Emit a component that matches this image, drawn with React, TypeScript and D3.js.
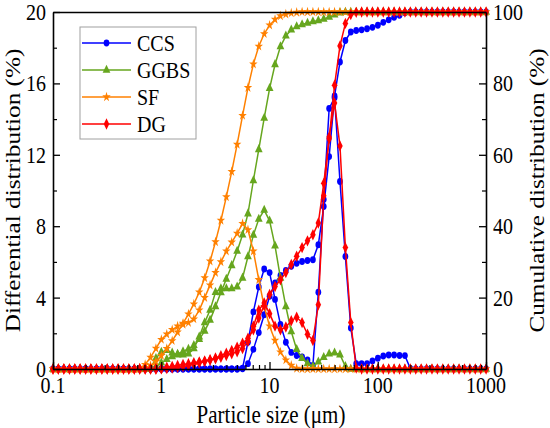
import { useEffect, useRef } from "react";
import * as d3 from "d3";

// particle size classes (µm)
const sizes = [
  0.1, 0.112, 0.126, 0.142, 0.159, 0.178, 0.2, 0.224, 0.252, 0.283,
  0.317, 0.356, 0.399, 0.448, 0.502, 0.564, 0.632, 0.71, 0.796, 0.893,
  1.002, 1.125, 1.262, 1.416, 1.589, 1.783, 2.0, 2.244, 2.518, 2.825,
  3.17, 3.557, 3.991, 4.477, 5.024, 5.637, 6.325, 7.096, 7.962, 8.934,
  10.024, 11.247, 12.619, 14.159, 15.887, 17.825, 20.0, 22.44, 25.179, 28.251,
  31.698, 35.566, 39.905, 44.774, 50.238, 56.368, 63.246, 70.963, 79.621, 89.337,
  100.237, 112.468, 126.191, 141.589, 158.866, 178.25, 200.0, 224.404, 251.785, 282.508,
  316.979, 355.656, 399.052, 447.744, 502.377, 563.677, 632.456, 709.627, 796.214, 893.367,
  1002.374,
];

const ccsDiff = [
  0, 0, 0, 0, 0, 0, 0, 0, 0, 0,
  0, 0, 0, 0, 0, 0, 0, 0, 0, 0,
  0, 0, 0, 0, 0, 0, 0, 0, 0, 0,
  0, 0, 0, 0, 0, 0.05, 1.5, 3.2, 4.6, 5.6,
  5.4, 3.9, 2.5, 1.5, 0.93, 0.76, 0.68, 0.5, 0.2, 4.3,
  9.5, 14.6, 15.2, 10.5, 6.3, 2.3, 0.3, 0.3, 0.3, 0.45,
  0.6, 0.73, 0.78, 0.78, 0.76, 0.75, 0.02, 0, 0, 0,
  0, 0, 0, 0, 0, 0, 0, 0, 0, 0,
  0,
];
const ccsCum = [
  0, 0, 0, 0, 0, 0, 0, 0, 0, 0,
  0, 0, 0, 0, 0, 0, 0, 0, 0, 0,
  0, 0, 0, 0, 0, 0, 0, 0, 0, 0,
  0, 0, 0, 0, 0, 0.05, 1.5, 5.5, 10.2, 15.2,
  20.4, 24.1, 26.2, 27.6, 28.8, 29.6, 30.1, 30.4, 30.6, 34.8,
  45.5, 59.5, 76.5, 86.0, 92.0, 94.4, 94.8, 95.0, 95.3, 95.7,
  96.3, 97.1, 97.8, 98.5, 99.1, 99.8, 100, 100, 100, 100,
  100, 100, 100, 100, 100, 100, 100, 100, 100, 100,
  100,
];

const ggbsDiff = [
  0, 0, 0, 0, 0, 0, 0, 0, 0, 0,
  0, 0, 0, 0, 0, 0, 0, 0, 0.05, 0.6,
  0.95, 1.05, 0.9, 0.8, 0.8, 0.85, 1.15, 1.8, 2.6, 3.3,
  4.3, 4.5, 4.5, 4.5, 4.6, 5.1, 6.3, 7.5, 8.4, 8.9,
  8.3, 6.9, 5.1, 3.5, 2.1, 1.1, 0.6, 0.3, 0.15, 0.4,
  0.65, 0.85, 0.9, 0.8, 0.15, 0, 0, 0, 0, 0,
  0, 0, 0, 0, 0, 0, 0, 0, 0, 0,
  0, 0, 0, 0, 0, 0, 0, 0, 0, 0,
  0,
];
const ggbsCum = [
  0, 0, 0, 0, 0, 0, 0, 0, 0, 0,
  0, 0, 0, 0, 0, 0, 0, 0, 0.1, 0.7,
  1.7, 2.7, 3.5, 4.2, 4.9, 5.6, 6.6, 8.3, 10.6, 13.7,
  17.5, 21.4, 25.2, 29.0, 33.0, 37.6, 43.5, 52.8, 61.5, 70.3,
  78.6, 85.3, 90.3, 93.3, 95.0, 95.9, 96.5, 96.9, 97.3, 97.6,
  98.0, 98.6, 99.2, 99.8, 100, 100, 100, 100, 100, 100,
  100, 100, 100, 100, 100, 100, 100, 100, 100, 100,
  100, 100, 100, 100, 100, 100, 100, 100, 100, 100,
  100,
];

const sfDiff = [
  0, 0, 0, 0, 0, 0, 0, 0, 0, 0,
  0, 0, 0, 0, 0, 0, 0.05, 0.25, 0.65, 1.15,
  1.65, 1.95, 2.2, 2.4, 2.5, 2.6, 2.8, 3.3, 4.0, 4.7,
  5.4, 6.0, 6.6, 7.1, 7.6, 8.15, 7.8, 6.6, 5.0, 3.5,
  2.4, 1.6, 0.95, 0.5, 0.2, 0.03, 0, 0, 0, 0,
  0, 0, 0, 0, 0, 0, 0, 0, 0, 0,
  0, 0, 0, 0, 0, 0, 0, 0, 0, 0,
  0, 0, 0, 0, 0, 0, 0, 0, 0, 0,
  0,
];
const sfCum = [
  0, 0, 0, 0, 0, 0, 0, 0, 0, 0,
  0, 0, 0, 0, 0, 0, 0.05, 0.3, 0.95, 2.1,
  3.75, 5.7, 7.9, 10.3, 12.8, 15.4, 18.2, 21.5, 25.5, 30.2,
  35.6, 41.6, 48.2, 55.3, 62.9, 71.0, 78.8, 85.4, 90.4, 93.9,
  96.3, 97.9, 98.9, 99.4, 99.7, 99.9, 100, 100, 100, 100,
  100, 100, 100, 100, 100, 100, 100, 100, 100, 100,
  100, 100, 100, 100, 100, 100, 100, 100, 100, 100,
  100, 100, 100, 100, 100, 100, 100, 100, 100, 100,
  100,
];

const dgDiff = [
  0, 0, 0, 0, 0, 0, 0, 0, 0, 0,
  0, 0, 0, 0, 0, 0, 0, 0, 0, 0,
  0.03, 0.1, 0.15, 0.2, 0.25, 0.3, 0.35, 0.4, 0.45, 0.5,
  0.57, 0.65, 0.75, 0.85, 0.97, 1.15, 1.55, 2.4, 3.3, 3.7,
  3.1, 2.4, 2.2, 2.35, 2.7, 2.9, 2.6, 1.95, 1.6, 3.6,
  9.7, 13.0, 14.9, 12.5, 6.8, 2.6, 0.05, 0, 0, 0,
  0, 0, 0, 0, 0, 0, 0, 0, 0, 0,
  0, 0, 0, 0, 0, 0, 0, 0, 0, 0,
  0,
];
const dgCum = [
  0, 0, 0, 0, 0, 0, 0, 0, 0, 0,
  0, 0, 0, 0, 0, 0, 0, 0, 0, 0,
  0.03, 0.12, 0.26, 0.45, 0.68, 0.95, 1.3, 1.7, 2.1, 2.6,
  3.1, 3.7, 4.4, 5.2, 6.1, 7.2, 8.6, 11.0, 14.3, 17.8,
  20.9, 23.1, 25.0, 27.0, 29.3, 31.6, 34.0, 35.9, 37.6, 40.9,
  52.0, 64.5, 79.5, 90.5, 96.8, 99.3, 99.9, 100, 100, 100,
  100, 100, 100, 100, 100, 100, 100, 100, 100, 100,
  100, 100, 100, 100, 100, 100, 100, 100, 100, 100,
  100,
];

const xTicks = [0.1, 1, 10, 100, 1000];
const xTickLabels = ["0.1", "1", "10", "100", "1000"];
const leftTicks = [0, 4, 8, 12, 16, 20];
const leftMinor = [2, 6, 10, 14, 18];
const rightTicks = [0, 20, 40, 60, 80, 100];
const rightMinor = [10, 30, 50, 70, 90];

const W = 550;
const H = 428;
const plot = { left: 53, right: 486, top: 12, bottom: 369 };
const FONT = '"Liberation Serif", "Times New Roman", Times, serif';
const STRETCH = 1.2; // the source figure is a little taller than wide

export default function App() {
  const svgRef = useRef<SVGSVGElement>(null);

  useEffect(() => {
    if (!svgRef.current) return;
    const svg = d3.select(svgRef.current);
    svg.selectAll("*").remove();

    const x = d3.scaleLog().domain([0.1, 1000]).range([plot.left, plot.right]);
    const yL = d3.scaleLinear().domain([0, 20]).range([plot.bottom, plot.top]);
    const yR = d3.scaleLinear().domain([0, 100]).range([plot.bottom, plot.top]);

    const series = [
      { name: "CCS", color: "#0000ff", symbol: d3.symbolCircle, size: 26, diff: ccsDiff, cum: ccsCum },
      { name: "GGBS", color: "#66a61e", symbol: d3.symbolTriangle, size: 26, diff: ggbsDiff, cum: ggbsCum },
      { name: "SF", color: "#ff8000", symbol: d3.symbolStar, size: 22, diff: sfDiff, cum: sfCum },
      { name: "DG", color: "#ff0000", symbol: d3.symbolDiamond, size: 26, diff: dgDiff, cum: dgCum },
    ];

    const text = (
      txt: string, px: number, py: number, anchor: string, size: number, rotate = false
    ) =>
      svg.append("text")
        .attr("transform", `translate(${px},${py}) scale(1,${STRETCH})${rotate ? " rotate(-90)" : ""}`)
        .attr("text-anchor", anchor)
        .attr("font-family", FONT)
        .attr("font-size", size)
        .attr("fill", "#000")
        .text(txt);

    // curves
    series.forEach(s => {
      const curves: [number[], d3.ScaleLinear<number, number>][] = [[s.diff, yL], [s.cum, yR]];
      curves.forEach(([vals, y]) => {
        const line = d3.line<number>()
          .x((_, i) => x(sizes[i]))
          .y(d => y(d));
        svg.append("path")
          .datum(vals)
          .attr("fill", "none")
          .attr("stroke", s.color)
          .attr("stroke-width", 1.5)
          .attr("d", line);
        svg.append("g")
          .selectAll("path")
          .data(vals)
          .join("path")
          .attr("d", d3.symbol(s.symbol, s.size)())
          .attr("transform", (d, i) => `translate(${x(sizes[i])},${y(d)}) scale(1,${STRETCH})`)
          .attr("fill", s.color);
      });
    });

    // axes
    const styleAxis = (g: d3.Selection<SVGGElement, unknown, null, undefined>) => {
      g.selectAll("line").attr("stroke", "#000").attr("stroke-width", 1.3);
      g.select(".domain").attr("stroke", "#000").attr("stroke-width", 1.6);
    };
    const noDomain = (g: d3.Selection<SVGGElement, unknown, null, undefined>) => {
      g.select(".domain").remove();
      g.selectAll("line").attr("stroke", "#000").attr("stroke-width", 1.2);
    };
    const minorX = x.ticks().filter(t => !xTicks.includes(t));

    svg.append("g")
      .attr("transform", `translate(0,${plot.bottom})`)
      .call(d3.axisBottom(x).tickValues(minorX).tickSize(-4).tickFormat(() => ""))
      .call(noDomain);
    svg.append("g")
      .attr("transform", `translate(0,${plot.bottom})`)
      .call(d3.axisBottom(x).tickValues(xTicks).tickSize(-7).tickSizeOuter(0).tickFormat(() => ""))
      .call(styleAxis);
    svg.append("g")
      .attr("transform", `translate(0,${plot.top})`)
      .call(d3.axisTop(x).tickValues([]).tickSizeOuter(0))
      .call(styleAxis);

    svg.append("g")
      .attr("transform", `translate(${plot.left},0)`)
      .call(d3.axisLeft(yL).tickValues(leftMinor).tickSize(-4).tickFormat(() => ""))
      .call(noDomain);
    svg.append("g")
      .attr("transform", `translate(${plot.left},0)`)
      .call(d3.axisLeft(yL).tickValues(leftTicks).tickSize(-7).tickSizeOuter(0).tickFormat(() => ""))
      .call(styleAxis);

    svg.append("g")
      .attr("transform", `translate(${plot.right},0)`)
      .call(d3.axisRight(yR).tickValues(rightMinor).tickSize(-4).tickFormat(() => ""))
      .call(noDomain);
    svg.append("g")
      .attr("transform", `translate(${plot.right},0)`)
      .call(d3.axisRight(yR).tickValues(rightTicks).tickSize(-7).tickSizeOuter(0).tickFormat(() => ""))
      .call(styleAxis);

    // tick labels
    xTicks.forEach((t, i) => text(xTickLabels[i], x(t), 393, "middle", 20));
    leftTicks.forEach(t => text(`${t}`, 46, yL(t) + 8, "end", 20));
    rightTicks.forEach(t => text(`${t}`, 493, yR(t) + 8, "start", 20));

    // axis titles
    text("Particle size (μm)", 271, 423, "middle", 21);
    text("Differential distribution (%)", 20, (plot.top + plot.bottom) / 2, "middle", 21, true);
    text("Cumulative distribution (%)", 544, (plot.top + plot.bottom) / 2, "middle", 21, true);

    // legend
    svg.append("rect")
      .attr("x", 80).attr("y", 27)
      .attr("width", 116).attr("height", 112)
      .attr("fill", "#fff")
      .attr("stroke", "#a0a0a0")
      .attr("stroke-width", 1);
    series.forEach((s, i) => {
      const ly = 43 + i * 27;
      svg.append("line")
        .attr("x1", 82).attr("x2", 131)
        .attr("y1", ly).attr("y2", ly)
        .attr("stroke", s.color)
        .attr("stroke-width", 1.5);
      svg.append("path")
        .attr("d", d3.symbol(s.symbol, s.size)())
        .attr("transform", `translate(106.5,${ly}) scale(1,${STRETCH})`)
        .attr("fill", s.color);
      text(s.name, 137, ly + 8, "start", 20);
    });
  }, []);

  return (
    <svg
      ref={svgRef}
      width={W}
      height={H}
      style={{ position: "absolute", left: 0, top: 0, background: "#fff" }}
    />
  );
}
